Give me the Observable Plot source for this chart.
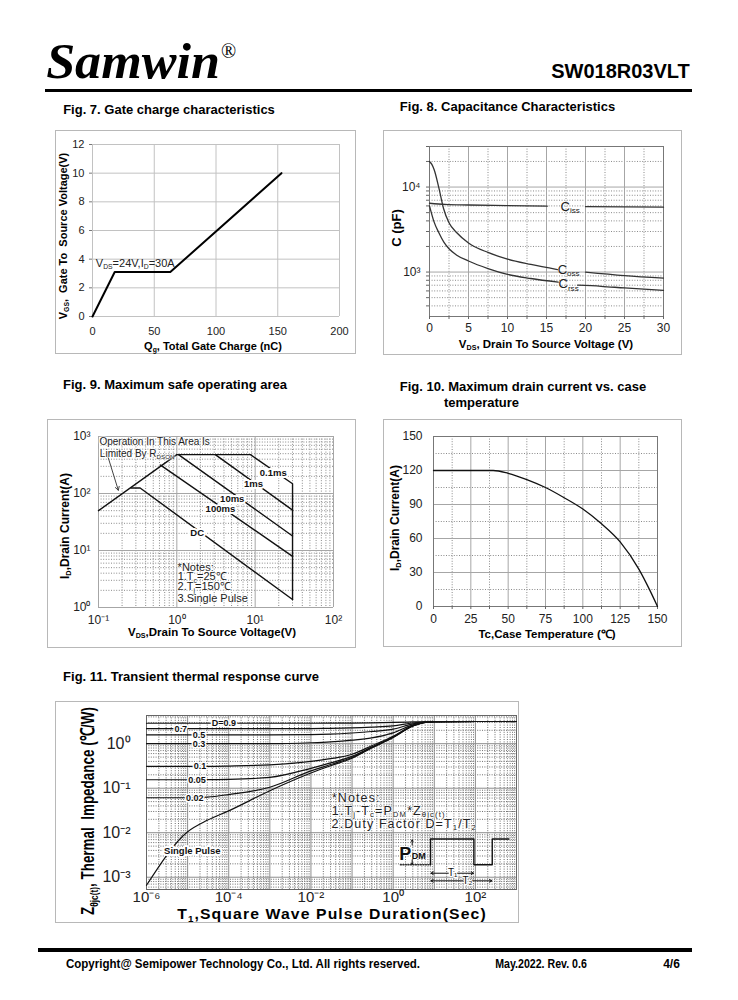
<!DOCTYPE html>
<html>
<head>
<meta charset="utf-8">
<script src="https://cdn.jsdelivr.net/npm/d3@7"></script>
<script src="https://cdn.jsdelivr.net/npm/@observablehq/plot@0.6"></script>
<style>
html,body{margin:0;padding:0;background:#fff;}
#page{position:relative;width:738px;height:1000px;overflow:hidden;background:#fff;font-family:"Liberation Sans",Arial,Helvetica,sans-serif;color:#000;}
#page sub{font-size:0.62em;vertical-align:baseline;position:relative;top:0.3em;line-height:0;}
.box{position:absolute;border:1px solid #b8b8b8;box-sizing:border-box;}
.hl{text-shadow:0 0 2px #fff,0 0 2px #fff,0 0 2px #fff,0 0 3px #fff;}
</style>
</head>
<body>
<div id="page"></div>
<script>
// ================= DATA =================
// Fig. 7 Gate charge
const gcCharge = [0, 18, 63, 153];
const gcVgs = [0, 3.1, 3.1, 10];
const gcXTicks = [0, 50, 100, 150, 200];
const gcYTicks = [0, 2, 4, 6, 8, 10, 12];

// Fig. 8 Capacitance (NaN = gap for the curve label)
const cissVds = [0, 2, 5, 10, 15.1, 17, 20, 25, 30];
const cissPf  = [6450, 6250, 6150, 6050, 5950, NaN, 5900, 5850, 5800];
const cossVds = [0, 0.3, 0.6, 1.2, 1.8, 2.5, 3.5, 5, 7.5, 10, 13, 16.4, 18, 20, 25, 30];
const cossPf  = [20000, 18500, 16000, 9800, 5600, 3800, 2900, 2200, 1700, 1420, 1230, 1070, NaN, 1000, 910, 850];
const crssVds = [0, 0.56, 1.2, 1.84, 2.5, 3.5, 5, 7.5, 10, 13, 16.5, 17.5, 19, 22, 25, 30];
const crssPf  = [6000, 3950, 2900, 2250, 1880, 1580, 1350, 1100, 940, 840, 760, NaN, 700, 680, 650, 610];
const capXTicks = [0, 5, 10, 15, 20, 25, 30];
const capXMinor = [2.5, 7.5, 12.5, 17.5, 22.5, 27.5];
const capYTicks = [1000, 10000];
const capYTickLabels = ["10³", "10⁴"];

// Fig. 9 Safe operating area
const soaRdsonV = [0.1, 1.0],            soaRdsonI = [50, 480];
const soa01msV  = [1.0, 8.7, 30, 30],    soa01msI  = [480, 480, 148, 1.38];
const soa1msV   = [3.1, 30],             soa1msI   = [480, 51];
const soa10msV  = [1.05, 30],            soa10msI  = [480, 18];
const soa100msV = [0.62, 30],            soa100msI = [315, 7.9];
const soaDcV    = [0.26, 0.34, 30],      soaDcI    = [125, 125, 1.38];
const soaLabels = ["0.1ms", "1ms", "10ms", "100ms", "DC"];
const soaLabelV = [17, 9.5, 5.1, 3.6, 1.82];
const soaLabelI = [234, 145, 79, 53, 20];
const soaXTicks = [0.1, 1, 10, 100];
const soaXTickLabels = ["10⁻¹", "10⁰", "10¹", "10²"];
const soaYTicks = [1, 10, 100, 1000];
const soaYTickLabels = ["10⁰", "10¹", "10²", "10³"];

// Fig. 10 Drain current vs case temperature
const tcTemp = [0, 25, 40, 50, 62.5, 75, 87.5, 100, 112.5, 125, 137.5, 145, 150];
const tcId   = [120, 120, 120, 117.5, 112, 105, 96, 86, 73, 57, 33, 14, 0];
const tcXTicks = [0, 25, 50, 75, 100, 125, 150];
const tcXMinor = [12.5, 37.5, 62.5, 87.5, 112.5, 137.5];
const tcYTicks = [0, 30, 60, 90, 120, 150];
const tcYMinor = [15, 45, 75, 105, 135];

// Fig. 11 Transient thermal impedance
const thermT  = [1e-6, 1e-5, 3e-5, 1e-4, 1e-3, 1e-2, 3e-2, 1e-1, 3e-1, 1, 3, 10, 100, 1000];
const zSingle = [6.6e-4, 0.0105, 0.019, 0.031, 0.088, 0.22, 0.32, 0.47, 0.8, 1.38, 2.5, 3.12, 3.15, 3.15];
const zD002   = [0.061, 0.061, 0.063, 0.072, 0.105, 0.245, 0.34, 0.49, 0.82, 1.4, 2.5, 3.12, 3.15, 3.15];
const zD005   = [0.155, 0.155, 0.156, 0.158, 0.175, 0.28, 0.37, 0.52, 0.84, 1.42, 2.52, 3.12, 3.15, 3.15];
const zD01    = [0.31, 0.31, 0.31, 0.315, 0.335, 0.4, 0.46, 0.58, 0.9, 1.47, 2.55, 3.13, 3.15, 3.15];
const zD03    = [1.0, 1.0, 1.0, 1.0, 1.0, 1.05, 1.1, 1.2, 1.35, 1.75, 2.65, 3.13, 3.15, 3.15];
const zD05    = [1.58, 1.58, 1.58, 1.58, 1.58, 1.6, 1.64, 1.74, 1.88, 2.12, 2.78, 3.14, 3.15, 3.15];
const zD07    = [2.18, 2.18, 2.18, 2.18, 2.18, 2.19, 2.21, 2.26, 2.36, 2.52, 2.92, 3.14, 3.15, 3.15];
const zD09    = [2.88, 2.88, 2.88, 2.88, 2.88, 2.88, 2.89, 2.9, 2.94, 3.0, 3.08, 3.15, 3.15, 3.15];
const dLabels = ["D=0.9", "0.7", "0.5", "0.3", "0.1", "0.05", "0.02"];
const dLabelT = [7.6e-5, 6.8e-6, 1.9e-5, 1.9e-5, 2e-5, 1.7e-5, 1.5e-5];
const dLabelZ = [2.88, 2.18, 1.58, 1.0, 0.31, 0.155, 0.061];
const thermXTicks = [1e-6, 1e-4, 1e-2, 1, 100];
const thermXTickLabels = ["10⁻⁶", "10⁻⁴", "10⁻²", "10⁰", "10²"];
const thermXMajor = [1e-6, 1e-5, 1e-4, 1e-3, 1e-2, 1e-1, 1, 10, 100, 1000];
const thermYTicks = [1e-3, 1e-2, 1e-1, 1];
const thermYTickLabels = ["10⁻³", "10⁻²", "10⁻¹", "10⁰"];
// pulse sketch (in data units of the chart)
const pulseT = [8.1, 8.1, 92, 92, 257, 257, 653];
const pulseZ = [1.9e-3, 7.2e-3, 7.2e-3, 1.9e-3, 1.9e-3, 7.2e-3, 7.2e-3];

// ================= HELPERS =================
const FONT = '"Liberation Sans", Arial, Helvetica, sans-serif';
const page = document.getElementById("page");
const rows = (xs, ys) => xs.map((x, i) => ({x, y: ys[i]}));
const minors = (e0, e1) => { const o = []; for (let e = e0; e < e1; e++) for (let m = 2; m <= 9; m++) o.push(m * 10 ** e); return o; };
const lbl = (ticks, labels) => d => labels[ticks.indexOf(d)] ?? "";

function put(html, x, y, css = {}, o = {}) {
  const d = document.createElement("div");
  d.innerHTML = html;
  d.style.cssText = "position:absolute;white-space:nowrap;line-height:1;left:0;top:0;";
  Object.assign(d.style, css);
  page.appendChild(d);
  const w = d.offsetWidth;
  const s = o.fit ? o.fit / w : 1;
  const ew = w * s, a = o.anchor || "start", rot = o.rotate || 0;
  let cx = x;
  if (!rot) cx = a === "start" ? x + ew / 2 : a === "end" ? x - ew / 2 : x;
  d.style.left = cx + "px"; d.style.top = y + "px";
  d.style.transformOrigin = "50% 50%";
  d.style.transform = `translate(-50%,-50%) rotate(${rot}deg) scale(${s},1)`;
  return d;
}
function rect(l, t, w, h, css) {
  const d = document.createElement("div");
  d.style.cssText = `position:absolute;left:${l}px;top:${t}px;width:${w}px;height:${h}px;`;
  Object.assign(d.style, css || {});
  page.appendChild(d); return d;
}
function box(l, t, w, h) { const d = rect(l, t, w, h); d.className = "box"; }
function mount(fig, left, top) {
  fig.style.position = "absolute"; fig.style.left = left + "px"; fig.style.top = top + "px";
  page.appendChild(fig);
  const sx = fig.scale("x"), sy = fig.scale("y");
  return {px: v => left + sx.apply(v), py: v => top + sy.apply(v)};
}
const st = fs => ({background: "transparent", fontFamily: FONT, fontSize: fs, color: "#222", overflow: "visible"});
const DOT = {stroke: "#8a8a8a", strokeDasharray: "1,1.6", strokeWidth: 1};
const SOL = {stroke: "#a6a6a6", strokeWidth: 1};

// ================= HEADER / FOOTER =================
put("Samwin", 46, 61, {fontFamily: '"Liberation Serif","Times New Roman",serif', fontWeight: "bold", fontStyle: "italic", fontSize: "50px"}, {fit: 174});
put("®", 221, 51, {fontFamily: '"Liberation Serif","Times New Roman",serif', fontSize: "20px"});
put("SW018R03VLT", 690, 71, {fontWeight: "bold", fontSize: "20px"}, {anchor: "end"});
rect(45, 89, 647, 3, {background: "#000"});
rect(38, 948, 654, 4, {background: "#000"});
put("Copyright@ Semipower Technology Co., Ltd. All rights reserved.", 66, 963, {fontWeight: "bold", fontSize: "13px"}, {fit: 354});
put("May.2022. Rev. 0.6", 495, 964, {fontWeight: "bold", fontSize: "12px"}, {fit: 92});
put("4/6", 663, 964, {fontWeight: "bold", fontSize: "12px"}, {fit: 17});

// titles
const T = {fontWeight: "bold", fontSize: "13px"};
put("Fig. 7. Gate charge characteristics", 63, 109, T);
put("Fig. 8. Capacitance Characteristics", 400, 106, T);
put("Fig. 9. Maximum safe operating area", 63, 384, T);
put("Fig. 10. Maximum drain current vs. case", 400, 386, T);
put("temperature", 444, 402, T);
put("Fig. 11. Transient thermal response curve", 63, 676, T);

// ================= FIG 7 =================
box(55, 130, 301, 224);
const f7 = Plot.plot({
  width: 301, height: 224, marginLeft: 37, marginRight: 17, marginTop: 14, marginBottom: 38,
  style: st("11px"),
  x: {domain: [0, 200]}, y: {domain: [0, 12]},
  marks: [
    Plot.ruleX(gcXTicks, {stroke: "#c2c2c2"}),
    Plot.ruleY(gcYTicks, {stroke: "#c2c2c2"}),
    Plot.axisX({ticks: gcXTicks, tickSize: 0, tickPadding: 11, label: null}),
    Plot.axisY({ticks: gcYTicks, tickSize: 3, tickPadding: 5, label: null, stroke: "#777"}),
    Plot.line(rows(gcCharge, gcVgs), {x: "x", y: "y", stroke: "#000", strokeWidth: 2})
  ]
});
const m7 = mount(f7, 55, 130);
put("V<sub>GS</sub>,&nbsp; Gate To&nbsp; Source Voltage(V)", 63, 236, {fontWeight: "bold", fontSize: "11px"}, {rotate: -90});
put("Q<sub>g</sub>, Total Gate Charge (nC)", 213, 346, {fontWeight: "bold", fontSize: "11px"}, {anchor: "middle"});
put("V<sub>DS</sub>=24V,I<sub>D</sub>=30A", m7.px(3), m7.py(3.7), {fontSize: "11px", color: "#222"});

// ================= FIG 8 =================
box(383, 130, 299, 225);
const f8 = Plot.plot({
  width: 299, height: 225, marginLeft: 46, marginRight: 19, marginTop: 16, marginBottom: 39,
  style: st("12px"),
  x: {domain: [0, 30]}, y: {type: "log", domain: [300, 30000]},
  marks: [
    Plot.ruleX(capXMinor, DOT),
    Plot.ruleY(minors(2, 5).filter(v => v > 300 && v <= 30000 && v !== 1000 && v !== 10000), DOT),
    Plot.ruleX(capXTicks, SOL),
    Plot.ruleY(capYTicks, SOL),
    Plot.frame({stroke: "#777"}),
    Plot.axisX({ticks: capXMinor, tickSize: 3, tickFormat: () => "", label: null, stroke: "#666"}),
    Plot.axisX({ticks: capXTicks, tickSize: 3, tickPadding: 4, label: null, stroke: "#666"}),
    Plot.axisY({ticks: minors(2, 5).filter(v => v > 300 && v <= 30000), tickSize: 3, tickFormat: () => "", label: null, stroke: "#666"}),
    Plot.axisY({ticks: capYTicks, tickFormat: lbl(capYTicks, capYTickLabels), tickSize: 3, tickPadding: 6, label: null, stroke: "#666"}),
    Plot.line(rows(cissVds, cissPf), {x: "x", y: "y", stroke: "#333", strokeWidth: 1.3, curve: "monotone-x"}),
    Plot.line(rows(cossVds, cossPf), {x: "x", y: "y", stroke: "#333", strokeWidth: 1.3, curve: "monotone-x"}),
    Plot.line(rows(crssVds, crssPf), {x: "x", y: "y", stroke: "#333", strokeWidth: 1.3, curve: "monotone-x"})
  ]
});
const m8 = mount(f8, 383, 130);
put("C (pF)", 396, 228, {fontWeight: "bold", fontSize: "13px"}, {rotate: -90});
put("V<sub>DS</sub>, Drain To Source Voltage (V)", 546, 345, {fontWeight: "bold", fontSize: "11.5px"}, {anchor: "middle"});
const capLab = {fontSize: "13px", color: "#222"};
put("C<sub>iss</sub>", m8.px(18.1), m8.py(5900), capLab, {anchor: "middle"});
put("C<sub>oss</sub>", m8.px(17.9), m8.py(1070), capLab, {anchor: "middle"});
put("C<sub>rss</sub>", m8.px(17.9), m8.py(730), capLab, {anchor: "middle"});

// ================= FIG 9 =================
box(47, 419, 309, 229);
const soaLine = {x: "x", y: "y", stroke: "#111", strokeWidth: 1.4};
const f9 = Plot.plot({
  width: 309, height: 229, marginLeft: 51, marginRight: 23, marginTop: 17, marginBottom: 41,
  style: st("12px"),
  x: {type: "log", domain: [0.1, 100]}, y: {type: "log", domain: [1, 1000]},
  marks: [
    Plot.ruleX(minors(-1, 2), DOT),
    Plot.ruleY(minors(0, 3), DOT),
    Plot.ruleX(soaXTicks, SOL),
    Plot.ruleY(soaYTicks, SOL),
    Plot.axisX({ticks: soaXTicks, tickFormat: lbl(soaXTicks, soaXTickLabels), tickSize: 0, tickPadding: 8, label: null}),
    Plot.axisY({ticks: soaYTicks, tickFormat: lbl(soaYTicks, soaYTickLabels), tickSize: 0, tickPadding: 8, label: null}),
    Plot.line(rows(soaRdsonV, soaRdsonI), soaLine),
    Plot.line(rows(soa01msV, soa01msI), soaLine),
    Plot.line(rows(soa1msV, soa1msI), soaLine),
    Plot.line(rows(soa10msV, soa10msI), soaLine),
    Plot.line(rows(soa100msV, soa100msI), soaLine),
    Plot.line(rows(soaDcV, soaDcI), soaLine),
    Plot.arrow([{x1: 0.133, y1: 427, x2: 0.179, y2: 114}], {x1: "x1", y1: "y1", x2: "x2", y2: "y2", stroke: "#444", strokeWidth: 1, headLength: 6}),
    Plot.text(soaLabels, {x: (d, i) => soaLabelV[i], y: (d, i) => soaLabelI[i], text: d => d, fontWeight: "bold", fontSize: 9.5, fill: "#111", stroke: "white", strokeWidth: 4})
  ]
});
const m9 = mount(f9, 47, 419);
put("I<sub>D</sub>,Drain Current(A)", 65, 526, {fontWeight: "bold", fontSize: "12px"}, {rotate: -90});
put("V<sub>DS</sub>,Drain To Source Voltage(V)", 212, 633, {fontWeight: "bold", fontSize: "11.5px"}, {anchor: "middle"});
const n9 = {fontSize: "10px", color: "#222"};
const e1 = put("Operation In This Area Is", m9.px(0.105), m9.py(770), n9); e1.className = "hl";
const e2 = put("Limited By R<sub>DSON</sub>", m9.px(0.105), m9.py(475), n9); e2.className = "hl";
const n9b = {fontSize: "11px", color: "#222"};
[["*Notes:", 5.13], ["1.T<sub>c</sub>=25℃", 3.43], ["2.T<sub>j</sub>=150℃", 2.29], ["3.Single Pulse", 1.41]]
  .forEach(([t, v]) => { const e = put(t, m9.px(1.04), m9.py(v), n9b); e.className = "hl"; });

// ================= FIG 10 =================
box(383, 419, 299, 228);
const f10 = Plot.plot({
  width: 299, height: 228, marginLeft: 50, marginRight: 25, marginTop: 17, marginBottom: 41,
  style: st("12px"),
  x: {domain: [0, 150]}, y: {domain: [0, 150]},
  marks: [
    Plot.ruleX(tcXMinor, DOT),
    Plot.ruleY(tcYMinor, DOT),
    Plot.ruleX(tcXTicks, SOL),
    Plot.ruleY(tcYTicks, SOL),
    Plot.frame({stroke: "#777"}),
    Plot.axisX({ticks: tcXMinor, tickSize: 3, tickFormat: () => "", label: null, stroke: "#666"}),
    Plot.axisX({ticks: tcXTicks, tickSize: 3, tickPadding: 5, label: null, stroke: "#666"}),
    Plot.axisY({ticks: tcYTicks, tickSize: 0, tickPadding: 11, label: null}),
    Plot.line(rows(tcTemp, tcId), {x: "x", y: "y", stroke: "#111", strokeWidth: 1.3, curve: "monotone-x"})
  ]
});
mount(f10, 383, 419);
put("I<sub>D</sub>,Drain Current(A)", 395, 518, {fontWeight: "bold", fontSize: "12px"}, {rotate: -90});
put("Tc,Case Temperature (℃)", 547, 635, {fontWeight: "bold", fontSize: "11.5px"}, {anchor: "middle"});

// ================= FIG 11 =================
box(55, 701, 464, 222);
const thLine = {x: "x", y: "y", stroke: "#111", strokeWidth: 1.2, curve: "monotone-x"};
const DOT11 = {stroke: "#6e6e6e", strokeDasharray: "1,1.4", strokeWidth: 1};
const f11 = Plot.plot({
  width: 464, height: 222, marginLeft: 91, marginRight: 3, marginTop: 14, marginBottom: 34,
  style: st("15px"),
  x: {type: "log", domain: [1e-6, 1e3]}, y: {type: "log", domain: [5.3e-4, 4.3]},
  marks: [
    Plot.ruleX(minors(-6, 3), DOT11),
    Plot.ruleY(minors(-4, 1).filter(v => v >= 5.3e-4 && v <= 4.3), DOT11),
    Plot.ruleX(thermXMajor, {stroke: "#8c8c8c"}),
    Plot.ruleY(thermYTicks, {stroke: "#8c8c8c"}),
    Plot.frame({stroke: "#666"}),
    Plot.axisX({ticks: thermXTicks, tickFormat: lbl(thermXTicks, thermXTickLabels), tickSize: 0, tickPadding: 2, label: null}),
    Plot.axisY({ticks: thermYTicks, tickFormat: lbl(thermYTicks, thermYTickLabels), tickSize: 0, tickPadding: 16, label: null, fontSize: 16}),
    Plot.line(rows(thermT, zSingle), thLine),
    Plot.line(rows(thermT, zD002), thLine),
    Plot.line(rows(thermT, zD005), thLine),
    Plot.line(rows(thermT, zD01), thLine),
    Plot.line(rows(thermT, zD03), thLine),
    Plot.line(rows(thermT, zD05), thLine),
    Plot.line(rows(thermT, zD07), thLine),
    Plot.line(rows(thermT, zD09), thLine),
    Plot.text(dLabels, {x: (d, i) => dLabelT[i], y: (d, i) => dLabelZ[i], text: d => d, fontWeight: "bold", fontSize: 9, fill: "#111", stroke: "white", strokeWidth: 3}),
    Plot.text(["Single Pulse"], {x: 1.3e-5, y: 3.8e-3, text: d => d, fontWeight: "bold", fontSize: 9.5, fill: "#111", stroke: "white", strokeWidth: 4}),
    // pulse sketch
    Plot.line(rows([1.5, 8.1], [1.9e-3, 1.9e-3]), {x: "x", y: "y", stroke: "#333", strokeDasharray: "1,1.5"}),
    Plot.line(rows(pulseT, pulseZ), {x: "x", y: "y", stroke: "#111", strokeWidth: 1.4}),
    Plot.arrow([{a: 2.9, b: 5.3e-3, c: 6.9e-3}, {a: 2.9, b: 2.45e-3, c: 1.95e-3}], {x1: "a", x2: "a", y1: "b", y2: "c", stroke: "#111", strokeWidth: 1, headLength: 4}),
    Plot.arrow([{a: 22, b: 8.3}, {a: 36, b: 90}], {x1: "a", x2: "b", y1: () => 1.23e-3, y2: () => 1.23e-3, stroke: "#111", strokeWidth: 1, headLength: 4}),
    Plot.arrow([{a: 50, b: 8.3}, {a: 82, b: 252}], {x1: "a", x2: "b", y1: () => 8.3e-4, y2: () => 8.3e-4, stroke: "#111", strokeWidth: 1, headLength: 4}),
    Plot.text(["T₁"], {x: 28, y: 1.23e-3, text: d => d, fontSize: 10, fill: "#111", stroke: "white", strokeWidth: 2}),
    Plot.text(["T₂"], {x: 64, y: 8.3e-4, text: d => d, fontSize: 10, fill: "#111", stroke: "white", strokeWidth: 2}),
    Plot.text(["P"], {x: 1.97, y: 3.3e-3, text: d => d, fontSize: 18, fontWeight: "bold", fill: "#111", stroke: "white", strokeWidth: 2}),
    Plot.text(["DM"], {x: 4.2, y: 2.95e-3, text: d => d, fontSize: 9, fontWeight: "bold", fill: "#111"})
  ]
});
const m11 = mount(f11, 55, 701);
put("Z<sub>θjc(t)</sub>, Thermal&nbsp; Impedance (℃/W)", 87, 811, {fontWeight: "bold", fontSize: "19px"}, {rotate: -90, fit: 208});
put("T<sub>1</sub>,Square Wave Pulse Duration(Sec)", 332, 914, {fontWeight: "bold", fontSize: "14px", letterSpacing: "1px"}, {anchor: "middle", fit: 310});
const n11 = {fontSize: "12.5px", letterSpacing: "1.1px", color: "#222"};
[["*Notes:", 0.0596], ["1.T<sub>j</sub>-T<sub>c</sub>=P<sub>DM</sub>*Z<sub>θjc(t)</sub>", 0.0303], ["2.Duty Factor D=T<sub>1</sub>/T<sub>2</sub>", 0.0152]]
  .forEach(([t, v]) => { const e = put(t, m11.px(0.033), m11.py(v), n11); e.className = "hl"; });
</script>
</body>
</html>
